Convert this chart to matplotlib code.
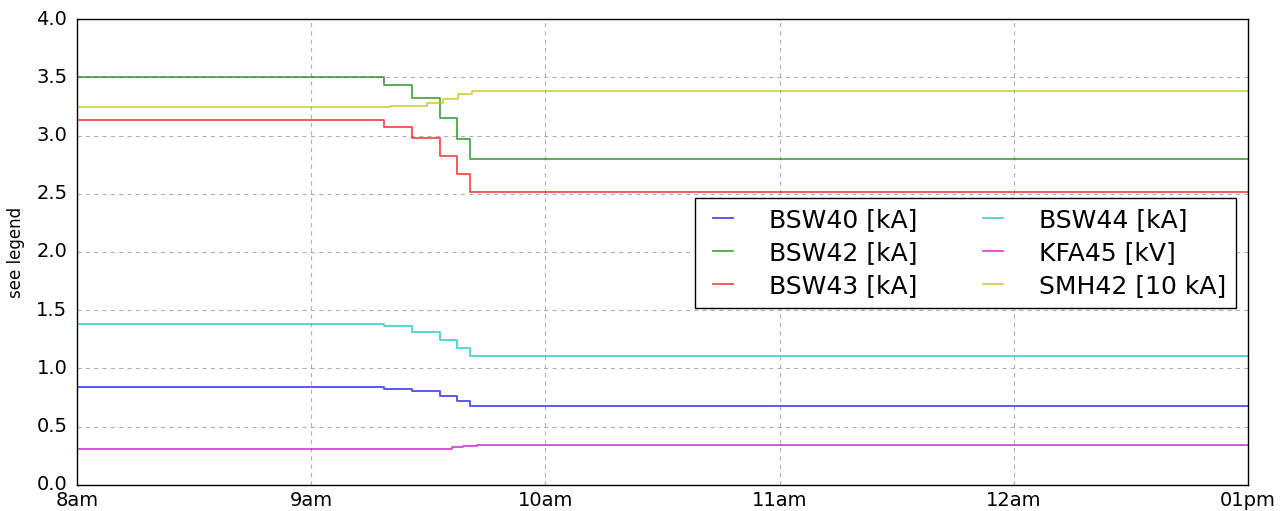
import numpy as np
import matplotlib
matplotlib.use('Agg')
import matplotlib.pyplot as plt

# Busbar / feeder readings over the morning, sampled at each switching step.
# Times are in decimal hours of the day.
STEP_TIMES = [8.0, 9.312, 9.432, 9.551, 9.621, 9.679]
BSW40 = [0.845, 0.828, 0.808, 0.765, 0.72, 0.676]
BSW42 = [3.50, 3.436, 3.325, 3.15, 2.97, 2.80]
BSW43 = [3.136, 3.07, 2.98, 2.82, 2.67, 2.515]
BSW44 = [1.386, 1.363, 1.314, 1.245, 1.176, 1.108]

AUX_TIMES = [8.0, 9.336, 9.493, 9.564, 9.628, 9.685]
SMH42 = [3.242, 3.256, 3.276, 3.313, 3.353, 3.385]

KFA_TIMES = [8.0, 9.336, 9.493, 9.600, 9.650, 9.707]
KFA45 = [0.31, 0.305, 0.313, 0.324, 0.335, 0.341]

T_END = 13.0
HOUR_TICKS = [8, 9, 10, 11, 12, 13]
HOUR_LABELS = ['8am', '9am', '10am', '11am', '12am', '01pm']

plt.style.use('classic')
plt.rcParams['font.family'] = ['DejaVu Sans']

fig = plt.figure(figsize=(12.88, 5.11), dpi=100, facecolor='white')
ax = fig.add_axes([0.0598, 0.0509, 0.9092, 0.9119])
ax.set_facecolor('white')


def extend(times, vals):
    # carry the last value through to the end of the window
    return list(times) + [T_END], list(vals) + [vals[-1]]


series = [
    (STEP_TIMES, BSW40, 'b', 'BSW40 [kA]'),
    (STEP_TIMES, BSW42, 'g', 'BSW42 [kA]'),
    (STEP_TIMES, BSW43, 'r', 'BSW43 [kA]'),
    (STEP_TIMES, BSW44, 'c', 'BSW44 [kA]'),
    (KFA_TIMES, KFA45, 'm', 'KFA45 [kV]'),
    (AUX_TIMES, SMH42, 'y', 'SMH42 [10 kA]'),
]

for t, v, col, lab in series:
    tx, vy = extend(t, v)
    ax.plot(tx, vy, drawstyle='steps-post', color=col, lw=1.3, alpha=0.7,
            label=lab)

ax.set_xlim(8, 13)
ax.set_ylim(0, 4)
ax.set_xticks(HOUR_TICKS)
ax.set_xticklabels(HOUR_LABELS)
ax.set_yticks(np.arange(0, 4.01, 0.5))
ax.tick_params(axis='both', length=0, labelsize=14)
ax.tick_params(axis='y', pad=7)
ax.tick_params(axis='x', pad=4)
ax.set_ylabel('see legend', fontsize=12, labelpad=8)
ax.set_axisbelow(True)
ax.grid(True, color='#b0b0b0', linestyle=(0, (3, 3)), linewidth=0.8)

leg = ax.legend(ncol=2, loc='upper right', bbox_to_anchor=(0.9898, 0.6159),
                borderaxespad=0, fontsize=18, handlelength=1.42,
                handletextpad=1.12, columnspacing=2.33, borderpad=0.4,
                labelspacing=0.36, fancybox=False)
leg.get_frame().set_edgecolor('black')

fig.savefig('out.png', dpi=100, facecolor='white')
